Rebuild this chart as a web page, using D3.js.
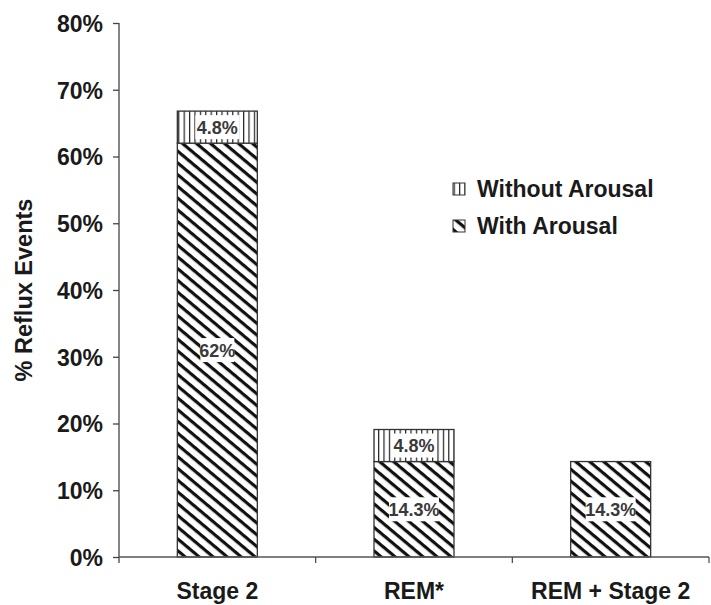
<!DOCTYPE html>
<html><head><meta charset="utf-8">
<script src="https://cdn.jsdelivr.net/npm/d3@7"></script>
<style>body{margin:0;background:#fff}svg{display:block}</style>
</head><body>
<svg id="chart" width="711" height="605"></svg>
<script>
const categories = ["Stage 2", "REM*", "REM + Stage 2"];
const withArousal = [0.62, 0.143, 0.143];
const withoutArousal = [0.048, 0.048, 0];
const withLabels = ["62%", "14.3%", "14.3%"];
const withoutLabels = ["4.8%", "4.8%", ""];
const yTicks = [0, 0.1, 0.2, 0.3, 0.4, 0.5, 0.6, 0.7, 0.8];
const seriesNames = ["Without Arousal", "With Arousal"];

const svg = d3.select("#chart");
const m = {left: 119, right: 2, top: 23, bottom: 48};
const x = d3.scaleBand().domain(categories).range([m.left, 709]).paddingInner(0).paddingOuter(0);
const y = d3.scaleLinear().domain([0, 0.8]).range([557, 23]);

const defs = svg.append("defs");
const diag = defs.append("pattern").attr("id","diag").attr("patternUnits","userSpaceOnUse")
  .attr("width", 9).attr("height", 9).attr("patternTransform","rotate(40)");
diag.append("rect").attr("width",9).attr("height",9).attr("fill","#fff");
diag.append("rect").attr("x",0).attr("y",0).attr("width",9).attr("height",3.2).attr("fill","#111");
const vert = defs.append("pattern").attr("id","vert").attr("patternUnits","userSpaceOnUse")
  .attr("width", 5.4).attr("height", 10);
vert.append("rect").attr("width",5.4).attr("height",10).attr("fill","#fff");
vert.append("rect").attr("x",0).attr("width",1.2).attr("height",10).attr("fill","#222");

const bw = 80;
const g = svg.append("g");
categories.forEach((c, i) => {
  const cx = x(c) + x.bandwidth()/2;
  g.append("rect").attr("x", cx - bw/2).attr("y", y(withArousal[i]))
    .attr("width", bw).attr("height", y(0) - y(withArousal[i]))
    .attr("fill","url(#diag)").attr("stroke","#333").attr("stroke-width",1.3);
  if (withoutArousal[i] > 0) {
    const top = withArousal[i] + withoutArousal[i];
    g.append("rect").attr("x", cx - bw/2).attr("y", y(top))
      .attr("width", bw).attr("height", y(withArousal[i]) - y(top))
      .attr("fill","url(#vert)").attr("stroke","#333").attr("stroke-width",1.3);
  }
});

function boxLabel(cx, cy, txt, w, h) {
  g.append("rect").attr("x", cx - w/2).attr("y", cy - h/2).attr("width", w).attr("height", h).attr("fill","#fff");
  g.append("text").attr("x", cx).attr("y", cy).attr("dy","0.36em").attr("text-anchor","middle")
    .attr("font-family","'Liberation Sans Narrow','Liberation Sans',Arial,sans-serif").attr("font-weight","bold")
    .attr("font-size",18).attr("fill","#3a3a3a").text(txt);
}
categories.forEach((c, i) => {
  const cx = x(c) + x.bandwidth()/2;
  const wl = withLabels[i];
  boxLabel(cx, (y(0) + y(withArousal[i]))/2, wl, wl.length > 3 ? 50 : 34, 24);
  if (withoutArousal[i] > 0) {
    const top = withArousal[i] + withoutArousal[i];
    boxLabel(cx, (y(withArousal[i]) + y(top))/2, withoutLabels[i], 44, 24);
  }
});

const yAxis = d3.axisLeft(y).tickValues(yTicks).tickFormat(d3.format(".0%")).tickSize(6).tickSizeOuter(0).tickPadding(10);
const ya = svg.append("g").attr("transform", `translate(${m.left},0)`).call(yAxis);
ya.select(".domain").remove();
ya.selectAll(".tick line").attr("stroke","#444").attr("stroke-width",1.3);
ya.selectAll(".tick text").attr("font-family","'Liberation Sans',Arial,sans-serif").attr("font-weight","bold")
  .attr("font-size",23).attr("fill","#1a1a1a").attr("dy","0.36em");
svg.append("line").attr("x1", m.left).attr("x2", m.left).attr("y1", y(0.8)).attr("y2", y(0)+6)
  .attr("stroke","#444").attr("stroke-width",1.3);

svg.append("line").attr("x1", m.left).attr("x2", 709).attr("y1", y(0)).attr("y2", y(0))
  .attr("stroke","#555").attr("stroke-width",1.5);
categories.forEach(c => {
  const xe = x(c) + x.bandwidth();
  svg.append("line").attr("x1", xe).attr("x2", xe).attr("y1", y(0)).attr("y2", y(0)+6)
    .attr("stroke","#444").attr("stroke-width",1.2);
  svg.append("text").attr("x", x(c) + x.bandwidth()/2).attr("y", 599).attr("text-anchor","middle")
    .attr("font-family","'Liberation Sans',Arial,sans-serif").attr("font-weight","bold")
    .attr("font-size",23).attr("fill","#1a1a1a").text(c);
});

svg.append("text").attr("transform", `translate(32,${(y(0)+y(0.8))/2}) rotate(-90)`)
  .attr("text-anchor","middle").attr("font-family","'Liberation Sans',Arial,sans-serif").attr("font-weight","bold")
  .attr("font-size",23.5).attr("fill","#1a1a1a").text("% Reflux Events");

const leg = svg.append("g");
const fills = ["url(#vert)", "url(#diag)"];
seriesNames.forEach((s, i) => {
  const ly = 189 + i*37;
  leg.append("rect").attr("x", 453).attr("y", ly - 6).attr("width", 12).attr("height", 12)
    .attr("fill", fills[i]).attr("stroke","#333").attr("stroke-width",1);
  leg.append("text").attr("x", 477).attr("y", ly).attr("dy","0.36em")
    .attr("font-family","'Liberation Sans',Arial,sans-serif").attr("font-weight","bold")
    .attr("font-size",23).attr("fill","#1a1a1a").text(s);
});
</script>
</body></html>
